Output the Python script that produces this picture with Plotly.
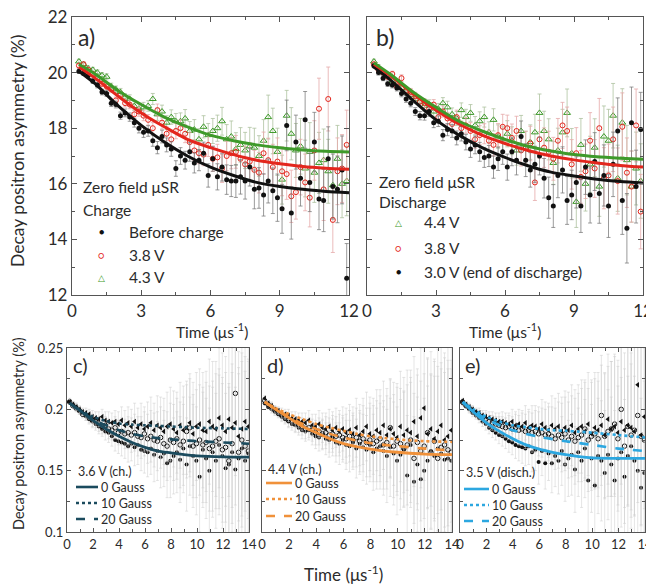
import plotly.graph_objects as go

# page is 654x584; the browser body has an 8px margin at top/left
OFF = 8
W, H = 654 - OFF, 584 - OFF
def px(x): return (x - OFF) / W
def py(y): return 1 - (y - OFF) / H

FONT = "Lato, 'Open Sans', sans-serif"
TXT = "#2b2b2b"

# ---------------- Panels a) and b): zero-field muSR ----------------
xa = [0.3,0.5,0.7,0.9,1.1,1.3,1.5,1.7,1.9,2.1,
      2.3,2.5,2.7,2.9,3.1,3.3,3.5,3.7,3.9,4.1,
      4.3,4.5,4.7,4.9,5.1,5.3,5.5,5.7,5.9,6.1,
      6.3,6.5,6.7,6.9,7.1,7.3,7.5,7.7,7.9,8.1,
      8.3,8.5,8.7,8.9,9.1,9.3,9.5,9.7,9.9,10.1,
      10.3,10.5,10.7,10.9,11.1,11.3,11.5,11.7,11.9]

a_before = [20.05,19.98,19.9,19.7,19.55,19.3,19.25,18.9,18.85,18.45,
            18.55,18.4,18.2,18.0,17.85,17.9,17.55,17.3,17.7,17.4,
            17.25,16.55,17.0,16.85,17.15,16.75,16.85,17.1,16.3,16.9,
            16.25,16.6,16.15,16.1,16.1,16.25,16.1,16.6,15.8,15.85,
            15.6,16.1,15.75,15.5,15.1,18.1,14.95,17.5,16.2,18.3,
            16.05,17.5,15.45,15.4,16.9,15.9,15.8,16.5,12.6]
a_38 = [20.25,20.3,20.1,19.95,19.8,19.6,19.5,19.4,19.0,19.2,
        18.9,18.85,18.5,18.6,18.45,18.3,18.0,18.65,18.2,17.8,
        17.6,17.9,18.0,17.8,17.5,17.2,17.1,17.05,17.4,16.9,
        16.95,16.55,17.0,17.1,17.15,16.9,16.7,16.8,16.5,16.4,
        17.1,16.85,16.6,16.8,16.45,16.35,15.55,15.7,16.6,16.05,
        15.5,17.2,18.7,15.8,19.05,14.7,16.45,16.55,17.4]
a_43 = [20.4,20.3,20.15,20.1,20.0,19.9,19.85,19.5,19.4,19.3,
        19.1,19.05,18.8,18.7,18.75,18.8,19.05,18.5,18.6,18.2,
        18.4,18.25,18.25,18.35,17.9,17.95,17.6,18.05,17.75,17.9,
        18.0,18.25,17.6,17.7,17.25,17.4,17.2,17.35,17.3,17.0,
        17.55,18.4,17.9,17.15,16.15,18.45,17.8,17.2,17.35,16.55,
        17.15,16.4,16.75,16.85,16.45,15.95,16.9,16.0,16.1]
err_a = [0.08,0.08,0.09,0.09,0.1,0.1,0.11,0.12,0.12,0.13,
         0.14,0.15,0.16,0.17,0.18,0.19,0.2,0.22,0.23,0.25,
         0.26,0.28,0.3,0.32,0.34,0.36,0.38,0.4,0.42,0.45,
         0.47,0.5,0.53,0.56,0.59,0.62,0.65,0.68,0.7,0.73,
         0.76,0.79,0.82,0.85,0.88,0.91,0.94,0.97,1.0,1.02,
         1.05,1.07,1.1,1.12,1.15,1.17,1.2,1.22,1.25]

b_30 = [20.25,20.0,19.8,19.6,19.55,19.45,19.25,19.05,18.9,18.6,
        18.45,18.45,18.6,18.2,18.25,17.75,17.95,17.9,17.65,17.8,
        17.5,17.25,17.4,17.15,16.95,17.0,16.6,16.9,17.15,16.6,
        17.15,16.85,17.7,16.85,16.5,16.7,17.0,16.2,15.5,15.2,
        16.3,16.5,15.4,15.6,16.05,15.2,16.6,15.6,16.8,15.65,
        16.3,15.2,16.7,17.9,15.4,14.4,18.2,15.9,17.95]
b_38 = [20.3,20.1,20.0,19.85,19.95,19.5,19.8,19.35,19.3,19.15,
        18.95,18.9,18.7,18.85,18.4,18.6,18.35,18.15,18.4,18.0,
        18.1,17.9,17.6,17.75,17.8,17.55,17.4,17.75,18.05,18.0,
        17.65,17.9,17.2,17.3,17.45,16.05,17.6,17.3,17.15,16.9,
        17.55,18.1,17.9,16.7,17.1,16.25,16.45,17.55,16.55,18.0,
        16.2,16.3,17.6,16.1,18.05,16.4,15.9,18.1,15.0]
b_44 = [20.4,20.2,20.0,19.9,19.7,19.6,19.45,19.3,19.2,19.05,
        18.95,18.8,18.85,18.6,18.7,18.9,18.75,18.5,18.35,18.65,
        18.4,18.55,18.1,18.25,18.4,17.85,18.3,17.7,17.6,17.8,
        17.55,17.2,17.9,17.3,17.5,17.85,18.55,17.9,17.6,16.75,
        17.2,17.85,18.55,17.1,15.35,17.4,16.0,16.7,17.3,15.9,
        17.7,17.55,18.45,16.2,18.2,16.85,15.9,16.55,16.1]
err_b = [0.08,0.09,0.09,0.1,0.1,0.11,0.12,0.12,0.13,0.14,
         0.15,0.16,0.17,0.18,0.19,0.2,0.22,0.23,0.25,0.26,
         0.28,0.3,0.32,0.34,0.36,0.38,0.4,0.42,0.45,0.47,
         0.5,0.53,0.56,0.59,0.62,0.65,0.68,0.71,0.74,0.77,
         0.8,0.83,0.86,0.89,0.92,0.95,0.98,1.01,1.04,1.07,
         1.1,1.13,1.16,1.19,1.22,1.25,1.28,1.31,1.34]

# fitted curves (sampled)
fx_top = [0.3,1,2,3,4,5,6,7,8,9,10,11,12]
fit_a_before = [20.05,19.6,18.8,18.1,17.5,17.0,16.6,16.3,16.05,15.9,15.8,15.72,15.68]
fit_a_38 = [20.2,19.8,19.15,18.55,18.05,17.6,17.3,17.05,16.85,16.72,16.62,16.56,16.52]
fit_a_43 = [20.3,19.95,19.35,18.85,18.4,18.05,17.75,17.55,17.4,17.3,17.22,17.17,17.14]
fit_b_30 = [20.2,19.75,19.0,18.3,17.75,17.3,16.95,16.65,16.42,16.28,16.16,16.08,16.03]
fit_b_38 = [20.3,19.9,19.25,18.65,18.15,17.75,17.45,17.2,17.0,16.86,16.75,16.66,16.6]
fit_b_44 = [20.35,19.95,19.3,18.75,18.25,17.9,17.6,17.35,17.18,17.05,16.97,16.92,16.88]

# ---------------- Panels c), d), e): longitudinal field ----------------
xb = [0.2,0.45,0.7,0.95,1.2,1.45,1.7,1.95,
      2.2,2.45,2.7,2.95,3.2,3.45,3.7,3.95,
      4.2,4.45,4.7,4.95,5.2,5.45,5.7,5.95,
      6.2,6.45,6.7,6.95,7.2,7.45,7.7,7.95,
      8.2,8.45,8.7,8.95,9.2,9.45,9.7,9.95,
      10.2,10.45,10.7,10.95,11.2,11.45,11.7,11.95,
      12.2,12.45,12.7,12.95,13.2,13.45,13.7,13.95]
err_low = [.002,.002,.003,.003,.003,.004,.004,.005,
           .005,.006,.006,.007,.008,.008,.009,.01,
           .011,.012,.013,.014,.015,.016,.017,.018,
           .02,.021,.022,.024,.025,.027,.028,.03,
           .031,.033,.035,.036,.038,.04,.042,.044,
           .045,.047,.049,.051,.053,.055,.057,.059,
           .061,.063,.065,.067,.069,.071,.073,.075]

c_0 = [.207,.204,.202,.199,.197,.195,.192,.19,
       .188,.186,.184,.182,.181,.178,.175,.174,
       .173,.172,.17,.172,.169,.171,.167,.166,
       .165,.168,.163,.166,.161,.164,.156,.158,
       .162,.165,.159,.168,.155,.17,.162,.158,
       .145,.167,.16,.15,.165,.158,.171,.162,
       .152,.155,.165,.151,.16,.168,.158,.164]
c_10 = [.206,.204,.202,.2,.198,.197,.196,.194,
        .193,.192,.194,.191,.19,.189,.19,.188,
        .191,.187,.189,.186,.19,.185,.188,.184,
        .186,.189,.183,.187,.185,.182,.186,.188,
        .184,.181,.187,.183,.185,.189,.18,.186,
        .188,.183,.182,.19,.186,.184,.193,.187,
        .182,.192,.185,.189,.178,.184,.19,.186]
c_20 = [.206,.203,.201,.199,.196,.195,.193,.191,
        .19,.188,.186,.187,.184,.183,.185,.181,
        .182,.18,.181,.179,.181,.178,.177,.18,
        .176,.178,.175,.174,.177,.172,.17,.175,
        .173,.176,.171,.174,.182,.185,.17,.172,
        .175,.171,.173,.168,.17,.174,.176,.167,
        .169,.158,.172,.213,.165,.175,.17,.166]

d_0 = [.205,.202,.2,.198,.196,.194,.192,.19,
       .188,.187,.185,.183,.182,.183,.18,.178,
       .177,.179,.176,.175,.177,.173,.172,.175,
       .171,.17,.173,.168,.172,.169,.167,.171,
       .165,.168,.17,.166,.162,.169,.164,.158,
       .163,.167,.146,.171,.141,.155,.143,.15,
       .158,.166,.162,.168,.164,.159,.16,.158]
d_10 = [.209,.205,.203,.2,.199,.197,.196,.195,
        .193,.192,.191,.19,.189,.191,.187,.186,
        .188,.185,.184,.186,.183,.185,.182,.184,
        .181,.183,.18,.185,.179,.182,.186,.18,
        .178,.183,.181,.187,.179,.184,.18,.177,
        .186,.179,.183,.181,.19,.178,.193,.201,
        .18,.184,.176,.182,.187,.175,.178,.183]
d_20 = [.207,.204,.202,.199,.197,.195,.193,.191,
        .19,.188,.187,.186,.184,.185,.183,.181,
        .182,.18,.181,.179,.18,.178,.179,.177,
        .176,.178,.175,.177,.174,.176,.173,.175,
        .172,.174,.176,.171,.173,.185,.17,.174,
        .172,.168,.171,.175,.16,.173,.166,.17,
        .181,.165,.174,.16,.169,.171,.167,.165]

e_0 = [.205,.203,.2,.197,.195,.193,.19,.188,
       .185,.183,.181,.179,.178,.176,.174,.173,
       .171,.17,.169,.168,.17,.165,.167,.157,
       .166,.156,.164,.156,.162,.158,.166,.155,
       .16,.163,.151,.165,.158,.168,.142,.16,
       .138,.162,.158,.148,.163,.155,.142,.16,
       .165,.145,.162,.17,.158,.15,.136,.148]
e_10 = [.207,.204,.202,.2,.198,.197,.195,.194,
        .193,.192,.191,.19,.19,.189,.188,.19,
        .187,.188,.186,.189,.185,.187,.186,.184,
        .188,.185,.183,.187,.184,.186,.182,.185,
        .183,.187,.181,.184,.186,.182,.188,.18,
        .185,.183,.187,.179,.192,.184,.186,.181,
        .19,.183,.187,.185,.182,.22,.179,.194]
e_20 = [.206,.203,.201,.199,.197,.195,.193,.192,
        .19,.189,.188,.187,.186,.185,.186,.184,
        .185,.183,.184,.182,.183,.181,.182,.18,
        .181,.179,.18,.178,.176,.179,.177,.18,
        .175,.178,.174,.177,.179,.184,.175,.178,
        .18,.176,.195,.178,.182,.184,.188,.176,
        .2,.17,.186,.179,.183,.195,.178,.175]

fx_low = [0.2,1,2,3,4,5,6,7,8,9,10,12,14]
fit_c = {"0": [0.205,0.199,0.191,0.184,0.178,0.173,0.169,0.166,0.1645,0.163,0.162,0.1612,0.161],
         "10": [0.205,0.199,0.194,0.1905,0.1885,0.1875,0.187,0.1865,0.186,0.1855,0.185,0.1845,0.184],
         "20": [0.205,0.199,0.192,0.187,0.183,0.18,0.178,0.1765,0.1755,0.1748,0.174,0.173,0.172]}
fit_d = {"0": [0.206,0.2,0.193,0.186,0.181,0.176,0.172,0.1695,0.1675,0.166,0.165,0.1635,0.163],
         "10": [0.206,0.201,0.196,0.192,0.188,0.185,0.1825,0.18,0.178,0.1767,0.1755,0.174,0.1735],
         "20": [0.206,0.2,0.194,0.188,0.184,0.18,0.177,0.1745,0.1725,0.171,0.17,0.168,0.1665]}
fit_e = {"0": [0.206,0.198,0.189,0.182,0.176,0.171,0.1675,0.165,0.163,0.1615,0.1605,0.16,0.16],
         "10": [0.206,0.2,0.194,0.19,0.187,0.1855,0.184,0.183,0.1825,0.1818,0.181,0.179,0.177],
         "20": [0.206,0.199,0.192,0.187,0.183,0.18,0.1775,0.1757,0.174,0.1725,0.171,0.168,0.166]}

C_BLACK, C_RED, C_GREEN = "#111111", "#e3261d", "#3e9a2a"
C_C, C_D, C_E = "#1b4b5e", "#f0913a", "#2ca7e0"

fig = go.Figure()

def pts(ax, x, y, err, symbol, size, fill, edge, lw, ecol, ew=2):
    fig.add_trace(go.Scatter(
        x=x, y=y, mode="markers", xaxis="x" + ax, yaxis="y" + ax,
        marker=dict(symbol=symbol, size=size, color=fill, line=dict(color=edge, width=lw)),
        error_y=dict(type="data", array=err, visible=True, color=ecol, thickness=1, width=ew),
        showlegend=False, hoverinfo="skip"))

def fit(ax, y, color, dash="solid", width=3, x=fx_top):
    fig.add_trace(go.Scatter(
        x=x, y=y, mode="lines", xaxis="x" + ax, yaxis="y" + ax,
        line=dict(color=color, width=width, dash=dash, shape="spline", smoothing=0.8),
        showlegend=False, hoverinfo="skip"))

# panel a
pts("", xa, a_43, err_a, "triangle-up-open", 6, C_GREEN, C_GREEN, 1, "rgba(175,195,160,0.8)")
pts("", xa, a_38, err_a, "circle-open", 5, C_RED, C_RED, 1, "rgba(230,170,170,0.8)")
pts("", xa, a_before, err_a, "circle", 5, C_BLACK, C_BLACK, 0, "rgba(120,120,120,0.75)")
fit("", fit_a_before, C_BLACK)
fit("", fit_a_38, C_RED)
fit("", fit_a_43, C_GREEN)

# panel b
pts("2", xa, b_44, err_b, "triangle-up-open", 6, C_GREEN, C_GREEN, 1, "rgba(175,195,160,0.8)")
pts("2", xa, b_38, err_b, "circle-open", 5, C_RED, C_RED, 1, "rgba(230,170,170,0.8)")
pts("2", xa, b_30, err_b, "circle", 5, C_BLACK, C_BLACK, 0, "rgba(120,120,120,0.75)")
fit("2", fit_b_30, C_BLACK)
fit("2", fit_b_38, C_RED)
fit("2", fit_b_44, C_GREEN)

# panels c, d, e
ERR_LOW_COL = "rgba(205,205,205,0.5)"
for ax, d0, d10, d20, fits, col in [("3", c_0, c_10, c_20, fit_c, C_C),
                                    ("4", d_0, d_10, d_20, fit_d, C_D),
                                    ("5", e_0, e_10, e_20, fit_e, C_E)]:
    pts(ax, xb, d0, err_low, "circle", 4, "#111", "#111", 0, ERR_LOW_COL, 1.5)
    pts(ax, xb, d20, err_low, "circle-open", 4.5, "#111", "#111", 1, ERR_LOW_COL, 1.5)
    pts(ax, xb, d10, err_low, "triangle-left", 5, "#111", "#111", 0, ERR_LOW_COL, 1.5)
    fit(ax, fits["0"], col, "solid", 2.8, fx_low)
    fit(ax, fits["10"], col, "dot", 2.6, fx_low)
    fit(ax, fits["20"], col, "dash", 2.6, fx_low)

axis_common = dict(showline=True, linecolor="#555", linewidth=1.3, mirror="ticks",
                   ticks="inside", ticklen=5, tickcolor="#555", showgrid=False, zeroline=False,
                   automargin=False, ticklabeloverflow="allow",
                   tickfont=dict(family=FONT, size=17, color=TXT))
low_common = dict(axis_common, tickfont=dict(family=FONT, size=13, color=TXT), ticklen=4)

ya_dom = [py(295), py(17)]
yl_dom = [py(532), py(348)]
fig.update_layout(
    template="none",
    width=W, height=H, margin=dict(l=0, r=0, t=0, b=0, autoexpand=False),
    paper_bgcolor="white", plot_bgcolor="white",
    font=dict(family=FONT, color=TXT),
    xaxis=dict(axis_common, domain=[px(72), px(349)], range=[0, 12], dtick=3, anchor="y",
               minor=dict(ticks="inside", dtick=1.5, ticklen=3, tickcolor="#555")),
    yaxis=dict(axis_common, domain=ya_dom, range=[12, 22], dtick=2, anchor="x",
               minor=dict(ticks="inside", dtick=1, ticklen=3, tickcolor="#555")),
    xaxis2=dict(axis_common, domain=[px(367), px(643)], range=[0, 12], dtick=3, anchor="y2",
                minor=dict(ticks="inside", dtick=1.5, ticklen=3, tickcolor="#555")),
    yaxis2=dict(axis_common, domain=ya_dom, range=[12, 22], dtick=2, anchor="x2",
                showticklabels=False,
                minor=dict(ticks="inside", dtick=1, ticklen=3, tickcolor="#555")),
    xaxis3=dict(low_common, domain=[px(67), px(249)], range=[0, 14], dtick=2, anchor="y3",
                minor=dict(ticks="inside", dtick=1, ticklen=2.5, tickcolor="#555")),
    yaxis3=dict(low_common, domain=yl_dom, range=[0.1, 0.25], dtick=0.05, anchor="x3",
                minor=dict(ticks="inside", dtick=0.025, ticklen=2.5, tickcolor="#555")),
    xaxis4=dict(low_common, domain=[px(262), px(452)], range=[0, 14], dtick=2, anchor="y4",
                minor=dict(ticks="inside", dtick=1, ticklen=2.5, tickcolor="#555")),
    yaxis4=dict(low_common, domain=yl_dom, range=[0.1, 0.25], dtick=0.05, anchor="x4",
                showticklabels=False,
                minor=dict(ticks="inside", dtick=0.025, ticklen=2.5, tickcolor="#555")),
    xaxis5=dict(low_common, domain=[px(460), px(645)], range=[0, 14], dtick=2, anchor="y5",
                minor=dict(ticks="inside", dtick=1, ticklen=2.5, tickcolor="#555")),
    yaxis5=dict(low_common, domain=yl_dom, range=[0.1, 0.25], dtick=0.05, anchor="x5",
                showticklabels=False,
                minor=dict(ticks="inside", dtick=0.025, ticklen=2.5, tickcolor="#555")),
)

ann = []
def text(x, y, s, size, color=TXT, xanchor="left", textangle=0):
    ann.append(dict(x=px(x), y=py(y), xref="paper", yref="paper", text=s, showarrow=False,
                    xanchor=xanchor, yanchor="middle", textangle=textangle,
                    font=dict(family=FONT, size=size, color=color)))

# panel labels
text(76, 37, "a)", 23)
text(374, 37, "b)", 23)
text(71, 365, "c)", 20)
text(265, 365, "d)", 20)
text(463, 365, "e)", 20)

# axis titles
text(18, 151, "Decay positron asymmetry (%)", 17.5, xanchor="center", textangle=-90)
text(18, 434, "Decay positron asymmetry (%)", 14.5, xanchor="center", textangle=-90)
text(212, 330, "Time (μs<sup>-1</sup>)", 15.5, xanchor="center")
text(505, 330, "Time (μs<sup>-1</sup>)", 15.5, xanchor="center")
text(343, 573, "Time (μs<sup>-1</sup>)", 17, xanchor="center")

# legend a
text(81, 187, "Zero field μSR", 15.5)
text(81, 210, "Charge", 15.5)
text(102, 232, "●", 9, C_BLACK, xanchor="center")
text(102, 255, "○", 10, C_RED, xanchor="center")
text(102, 277, "△", 9, C_GREEN, xanchor="center")
text(127, 232, "Before charge", 15.5)
text(127, 255, "3.8 V", 15.5)
text(127, 277, "4.3 V", 15.5)

# legend b
text(377, 182, "Zero field μSR", 15.5)
text(377, 202, "Discharge", 15.5)
text(398, 222, "△", 9, C_GREEN, xanchor="center")
text(398, 248, "○", 10, C_RED, xanchor="center")
text(398, 272, "●", 9, C_BLACK, xanchor="center")
text(422, 222, "4.4 V", 15.5)
text(422, 248, "3.8 V", 15.5)
text(422, 272, "3.0 V (end of discharge)", 15.5)

# legends c, d, e
shapes = []
for (x0, x1, xt, ys, title, ty, col) in [
        (76, 98, 98, (487, 503, 519), "3.6 V (ch.)", 471, C_C),
        (266, 292, 292, (483, 499, 516), "4.4 V (ch.)", 469, C_D),
        (464, 489, 489, (489, 505, 521), "3.5 V (disch.)", 472, C_E)]:
    text(x0, ty, title, 12.5)
    for yy, dash, lab in zip(ys, ("solid", "dot", "dash"), ("0 Gauss", "10 Gauss", "20 Gauss")):
        shapes.append(dict(type="line", xref="paper", yref="paper", x0=px(x0), x1=px(x1),
                           y0=py(yy), y1=py(yy), line=dict(color=col, width=2.6, dash=dash)))
        text(xt + 1, yy, lab, 12.5)

fig.update_layout(annotations=ann, shapes=shapes)
fig.write_html("out.html")
